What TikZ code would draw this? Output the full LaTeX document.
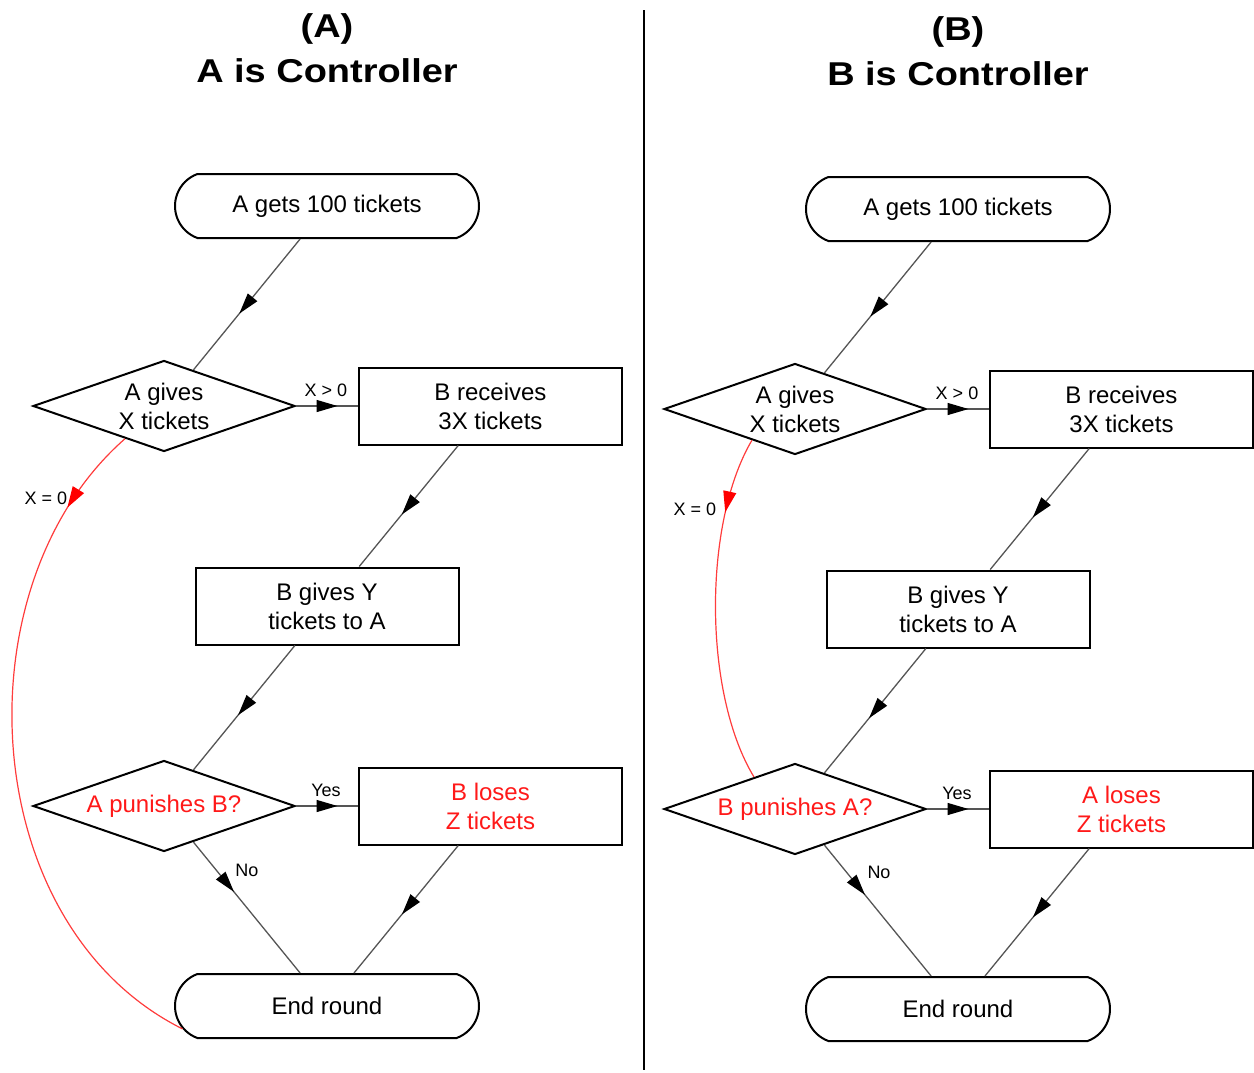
\documentclass[tikz,border=0pt]{standalone}
\usepackage{fontspec}
\setmainfont{Liberation Sans}
\usetikzlibrary{shapes.geometric,shapes.misc,arrows.meta,decorations.markings}
\definecolor{linegray}{RGB}{85,85,85}
\definecolor{redtxt}{RGB}{255,25,25}
\definecolor{redline}{RGB}{255,60,60}
\begin{document}
\begin{tikzpicture}[x=1pt,y=-1pt,
  txt/.style={font=\fontsize{24}{29}\selectfont, align=center},
  term/.style={txt, rounded rectangle, rounded rectangle arc length=140, draw=black, line width=2pt, minimum width=304pt, minimum height=64pt, inner sep=0pt},
  proc/.style={txt, rectangle, draw=black, line width=2pt, minimum width=263pt, minimum height=77pt, inner sep=0pt},
  decide/.style={txt, diamond, aspect=2.88, draw=black, line width=2pt, minimum width=262pt, minimum height=91pt, inner sep=0pt},
  lbl/.style={font=\fontsize{18}{20}\selectfont, inner sep=0pt},
  ttl/.style={font=\fontsize{33}{40}\bfseries\selectfont, anchor=base, inner sep=0pt},
  conn/.style={draw=linegray, line width=1.3pt, postaction={decorate}, decoration={markings, mark=at position #1 with {\arrow[black]{Triangle[length=21pt,width=12pt]}}}},
  redconn/.style={draw=redline, line width=1.2pt, postaction={decorate}, decoration={markings, mark=at position #1 with {\arrow[red]{Triangle[length=21pt,width=13pt]}}}},
]
\useasboundingbox (0,0) rectangle (1254,1072);

% divider
\coordinate (divtop) at (644,10);
\coordinate (divbot) at (644,1070);
\draw[line width=2pt] (divtop) -- (divbot);

% ---------------- Panel A ----------------
\begin{scope}
\node[ttl] (hA1) at (327,37) {\scalebox{1.15}[1]{(A)}};
\node[ttl] (hA2) at (327,82) {\scalebox{1.15}[1]{A is Controller}};

\node[term] (tA) at (327,206) {A gets 100 tickets};
\node[decide] (dA) at (164,406) {A gives\\X tickets};
\node[proc] (rA) at (490.5,406) {B receives\\3X tickets};
\node[proc] (gA) at (327,606) {B gives Y\\tickets to A};
\node[decide, text=redtxt] (pA) at (164,806) {A punishes B?};
\node[proc, text=redtxt] (lA) at (490.5,806) {B loses\\Z tickets};
\node[term] (eA) at (327,1006) {End round};

\draw[conn=0.57] (tA) -- (dA);
\draw[conn=0.67] (dA) -- (rA);
\draw[conn=0.57] (rA) -- (gA);
\draw[conn=0.56] (gA) -- (pA);
\draw[conn=0.67] (pA) -- (lA);
\draw[conn=0.38] (pA) -- (eA);
\draw[conn=0.54] (lA) -- (eA);
\draw[redconn=90pt] (dA.220) .. controls (-42,585) and (-25,925) .. (eA.189);

\node[lbl] (xgA) at (326,390) {X > 0};
\node[lbl] (xzA) at (46,498) {X = 0};
\node[lbl] (yA) at (326,790) {Yes};
\node[lbl] (nA) at (247,870) {No};
\end{scope}

% ---------------- Panel B ----------------
\begin{scope}[shift={(631,3)}]
\node[ttl] (hB1) at (327,37) {\scalebox{1.15}[1]{(B)}};
\node[ttl] (hB2) at (327,82) {\scalebox{1.15}[1]{B is Controller}};

\node[term] (tB) at (327,206) {A gets 100 tickets};
\node[decide] (dB) at (164,406) {A gives\\X tickets};
\node[proc] (rB) at (490.5,406) {B receives\\3X tickets};
\node[proc] (gB) at (327,606) {B gives Y\\tickets to A};
\node[decide, text=redtxt] (pB) at (164,806) {B punishes A?};
\node[proc, text=redtxt] (lB) at (490.5,806) {A loses\\Z tickets};
\node[term] (eB) at (327,1006) {End round};

\draw[conn=0.57] (tB) -- (dB);
\draw[conn=0.67] (dB) -- (rB);
\draw[conn=0.57] (rB) -- (gB);
\draw[conn=0.56] (gB) -- (pB);
\draw[conn=0.67] (pB) -- (lB);
\draw[conn=0.38] (pB) -- (eB);
\draw[conn=0.54] (lB) -- (eB);
\draw[redconn=77pt] (dB.216) .. controls (72,520) and (72,690) .. (pB.142);

\node[lbl] (xgB) at (326,390) {X > 0};
\node[lbl] (xzB) at (64,506) {X = 0};
\node[lbl] (yB) at (326,790) {Yes};
\node[lbl] (nB) at (248,869) {No};
\end{scope}
\end{tikzpicture}
\end{document}
